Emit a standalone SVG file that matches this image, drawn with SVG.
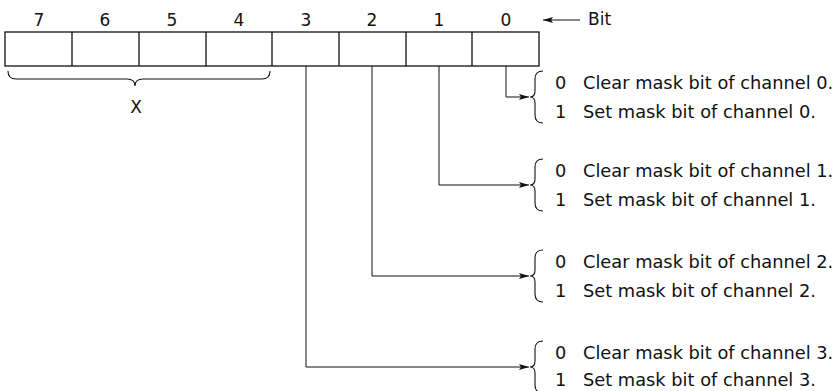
<svg xmlns="http://www.w3.org/2000/svg" width="839" height="391" viewBox="0 0 839 391">
<defs>
<style>
text{font-family:"DejaVu Sans","Liberation Sans",sans-serif;font-size:17px;fill:#111}
.d{font-size:17.8px}
.c{text-anchor:middle}
.box{fill:none;stroke:#111;stroke-width:1.3}
.ln{fill:none;stroke:#111;stroke-width:1}
.br{fill:none;stroke:#111;stroke-width:1.1}
</style>
<marker id="ah" viewBox="0 0 10 6" refX="10" refY="3" markerWidth="10" markerHeight="6" markerUnits="userSpaceOnUse" orient="auto">
<path d="M0,0 L10,3 L0,6 L2,3 Z" fill="#111"/>
</marker>
</defs>
<rect width="839" height="391" fill="#fff"/>
<g id="register">
<rect class="box" x="5" y="32" width="534" height="34"/>
<path class="box" d="M72,32V66M139,32V66M206,32V66M272,32V66M339,32V66M406,32V66M472,32V66"/>
<text class="c" x="39" y="26">7</text>
<text class="c" x="105" y="26">6</text>
<text class="c" x="172" y="26">5</text>
<text class="c" x="239" y="26">4</text>
<text class="c" x="306" y="26">3</text>
<text class="c" x="372" y="26">2</text>
<text class="c" x="439" y="26">1</text>
<text class="c" x="506" y="26">0</text>
</g>
<g id="bit-label">
<path class="ln" d="M580,20H543" marker-end="url(#ah)"/>
<text x="588" y="25">Bit</text>
</g>
<g id="x-field">
<path class="br" d="M8,71Q8,79 16,79L127,79Q135,79 135,86Q135,79 143,79L262,79Q270,79 270,71"/>
<text class="c" x="136" y="113">X</text>
</g>
<g id="connectors">
<path class="ln" d="M506,66V97H529" marker-end="url(#ah)"/>
<path class="ln" d="M439,66V185H529" marker-end="url(#ah)"/>
<path class="ln" d="M372,66V276H529" marker-end="url(#ah)"/>
<path class="ln" d="M306,66V367H529" marker-end="url(#ah)"/>
</g>
<g id="ch0">
<path class="br" d="M543,71Q535,71 535,79L535,91Q535,97 530,97Q535,97 535,103L535,115Q535,123 543,123"/>
<text class="d" x="555" y="89">0</text><text class="d" x="583" y="89">Clear mask bit of channel 0.</text>
<text class="d" x="555" y="118">1</text><text class="d" x="583" y="118">Set mask bit of channel 0.</text>
</g>
<g id="ch1">
<path class="br" d="M543,159Q535,159 535,167L535,179Q535,185 530,185Q535,185 535,191L535,203Q535,211 543,211"/>
<text class="d" x="555" y="177">0</text><text class="d" x="583" y="177">Clear mask bit of channel 1.</text>
<text class="d" x="555" y="206">1</text><text class="d" x="583" y="206">Set mask bit of channel 1.</text>
</g>
<g id="ch2">
<path class="br" d="M543,250Q535,250 535,258L535,270Q535,276 530,276Q535,276 535,282L535,294Q535,302 543,302"/>
<text class="d" x="555" y="268">0</text><text class="d" x="583" y="268">Clear mask bit of channel 2.</text>
<text class="d" x="555" y="297">1</text><text class="d" x="583" y="297">Set mask bit of channel 2.</text>
</g>
<g id="ch3">
<path class="br" d="M543,341Q535,341 535,349L535,361Q535,367 530,367Q535,367 535,373L535,385Q535,393 543,393"/>
<text class="d" x="555" y="359">0</text><text class="d" x="583" y="359">Clear mask bit of channel 3.</text>
<text class="d" x="555" y="386">1</text><text class="d" x="583" y="386">Set mask bit of channel 3.</text>
</g>
</svg>
